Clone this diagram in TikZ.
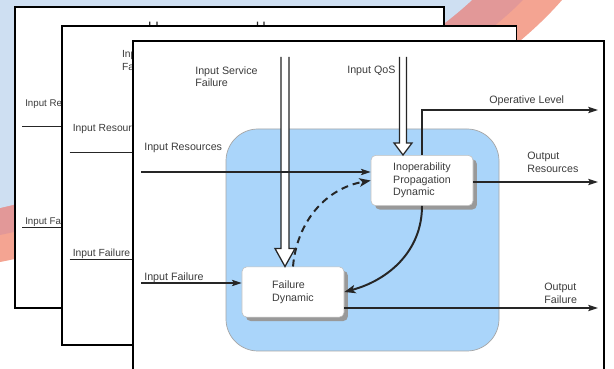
\documentclass[tikz,border=0pt]{standalone}
\usepackage{fontspec}
\setmainfont{Liberation Sans}
\usetikzlibrary{arrows.meta,calc,shadows}
\definecolor{bgblue}{RGB}{206,223,242}
\definecolor{bgrose}{RGB}{226,152,152}
\definecolor{bgsalmon}{RGB}{244,164,146}
\definecolor{areablue}{RGB}{170,213,250}
\definecolor{labelgray}{RGB}{60,60,60}

% one sheet of the stack, in the front sheet's pixel grid
\newcommand{\drawsheet}{%
    \draw[sheet] (133,-3) rectangle (604,328);
    \draw[area] (226,18) rectangle (499,240);
    % dynamics
    \node[dyn] (ipd) at (422,188.5) {Inoperability\\Propagation\\Dynamic};
    \node[dyn] (fd) at (293,77) {Failure\\Dynamic};
    % free ends
    \coordinate (isf) at (285,312);
    \coordinate (qos) at (403,312);
    \coordinate (inres) at (141,197);
    \coordinate (infail) at (141,86);
    \coordinate (oplev) at (598,259);
    \coordinate (outres) at (598,187);
    \coordinate (outfail) at (598,61);
    % hollow inputs
    \draw[hollow] ($(isf)+(-4,0)$) -- ($(isf |- fd.north)+(-4,18)$) -- ++(-6,0) -- (isf |- fd.north) -- ++(10,18) -- ++(-6,0) -- ($(isf)+(4,0)$);
    \draw[hollow] ($(qos)+(-3.5,0)$) -- ($(qos |- ipd.north)+(-3.5,12)$) -- ++(-5.5,0) -- (qos |- ipd.north) -- ++(9,12) -- ++(-5.5,0) -- ($(qos)+(3.5,0)$);
    % connectors
    \draw[flow] (inres) -- (inres -| ipd.west);
    \draw[flow] (infail) -- (infail -| fd.west);
    \draw[flow] (ipd.north) -- (ipd.north |- oplev) -- (oplev);
    \draw[flow] (outres -| ipd.east) -- (outres);
    \draw[flow] (outfail -| fd.east) -- (outfail);
    \draw[feedback, dash pattern=on 5pt off 3.5pt] (fd.north) to[out=85, in=190] (ipd.west);
    \draw[feedback] (ipd.south) to[out=270, in=15] (fd.east);
    % labels
    \node[lbl] (isflbl) at (195,303) {Input Service\\Failure};
    \node[lbl] (qoslbl) at (347,303) {Input QoS};
    \node[lbl] (oplevlbl) at (489,274) {Operative Level};
    \node[lbl] (outreslbl) at (527,217) {Output\\Resources};
    \node[lbl] (outfaillbl) at (544,86) {Output\\Failure};
    \node[lbl] (inreslbl) at (144,226) {Input Resources};
    \node[lbl] (infaillbl) at (144,97) {Input Failure};
}

\begin{document}
\begin{tikzpicture}[
    x=0.025cm, y=0.025cm,
    sheet/.style={draw=black, line width=1.3pt, fill=white},
    area/.style={draw=gray!70, line width=0.5pt, fill=areablue, rounded corners=0.8cm},
    dyn/.style={draw=gray!50, line width=0.4pt, fill=white, rounded corners=3.5pt, minimum width=2.55cm, minimum height=1.26cm, align=left, font=\fontsize{7.6}{9}\selectfont, text=labelgray, drop shadow={shadow xshift=2.8pt, shadow yshift=-2.8pt, fill=black!40, opacity=1}},
    lbl/.style={anchor=north west, inner sep=0pt, align=left, font=\fontsize{7.6}{9}\selectfont, text=labelgray},
    flow/.style={draw=black!85, line width=0.85pt, -{Stealth[length=7pt, width=4.5pt, inset=1.5pt]}},
    hollow/.style={draw=black!85, line width=0.9pt, fill=white, line join=miter},
    feedback/.style={draw=black!85, line width=1.4pt, -{Stealth[length=8pt, width=6pt, inset=2pt]}}
]
    \useasboundingbox (0,0) rectangle (614,369);
    \clip (0,0) rectangle (614,369);
    % background swoosh
    \fill[white] (0,0) rectangle (614,369);
    \fill[bgsalmon] (0,369) -- (562,369) .. controls (450,240) and (170,140) .. (0,107) -- cycle;
    \fill[bgrose] (0,369) -- (523,369) .. controls (410,255) and (150,165) .. (0,134) -- cycle;
    \fill[bgblue] (0,369) -- (472,369) .. controls (365,269) and (130,191) .. (0,161) -- cycle;
    % stacked sheets, back to front
    \begin{scope}[shift={(-106.03,63.52)}, scale=0.91, transform shape]
        \drawsheet
    \end{scope}
    \begin{scope}[shift={(-66.35,26.48)}, scale=0.965, transform shape]
        \drawsheet
    \end{scope}
    \drawsheet
\end{tikzpicture}
\end{document}
